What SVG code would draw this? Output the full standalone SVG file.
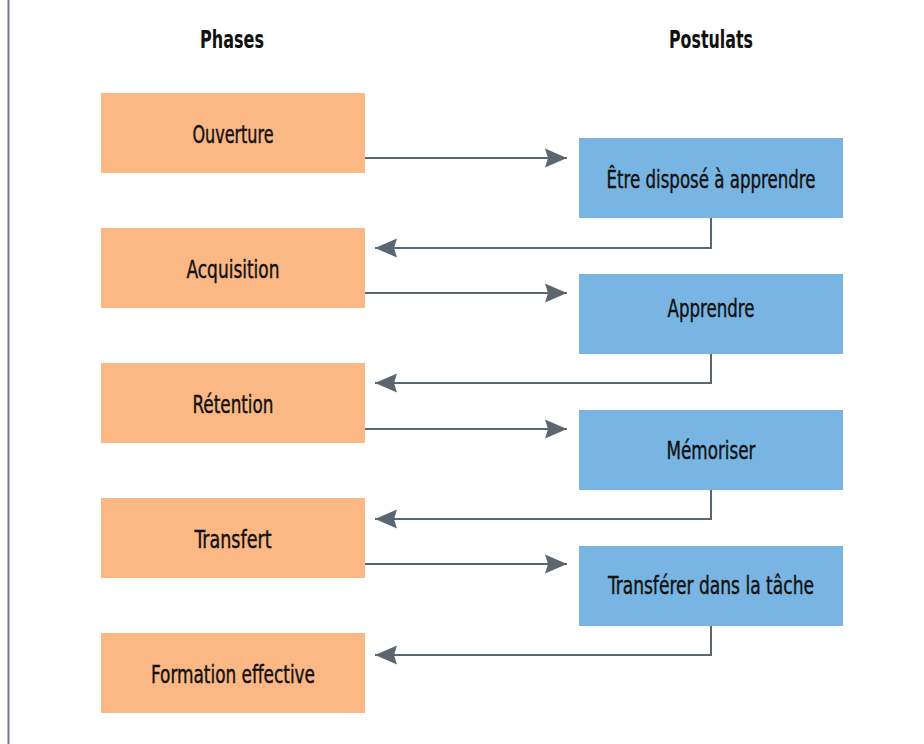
<svg xmlns="http://www.w3.org/2000/svg" width="924" height="744" viewBox="0 0 924 744">
<defs>
<style>
.ph{fill:#fbb784}
.po{fill:#79b5e2}
.t{font-family:"DejaVu Sans","Liberation Sans",sans-serif;font-stretch:condensed;font-size:24px;fill:#111;stroke:#111;stroke-width:0.4;text-anchor:middle}
.h{font-weight:bold;font-size:25px;stroke-width:0}
.c{fill:none;stroke:#5b6770;stroke-width:2}
</style>
<marker id="ah" markerUnits="userSpaceOnUse" markerWidth="24" markerHeight="20" viewBox="0 0 24 20" refX="22" refY="10" orient="auto">
<path d="M0,0.5 L22,10 L0,19.5 L3,10 Z" fill="#5b6770"/>
</marker>
</defs>
<rect width="924" height="744" fill="#fff"/>
<line x1="8.5" y1="0" x2="8.5" y2="744" stroke="#6f7a85" stroke-width="2"/>
<text class="t h" x="232" y="48" textLength="64" lengthAdjust="spacingAndGlyphs">Phases</text>
<text class="t h" x="711" y="48" textLength="84" lengthAdjust="spacingAndGlyphs">Postulats</text>
<g id="connectors">
<path class="c" d="M365,158 H567" marker-end="url(#ah)"/>
<path class="c" d="M711,218 V248 H375" marker-end="url(#ah)"/>
<path class="c" d="M365,293 H567" marker-end="url(#ah)"/>
<path class="c" d="M711,354 V383 H375" marker-end="url(#ah)"/>
<path class="c" d="M365,429 H567" marker-end="url(#ah)"/>
<path class="c" d="M711,490 V519 H375" marker-end="url(#ah)"/>
<path class="c" d="M365,564 H567" marker-end="url(#ah)"/>
<path class="c" d="M711,626 V655 H375" marker-end="url(#ah)"/>
</g>
<g id="ouverture"><rect class="ph" x="101" y="93" width="264" height="80"/><text class="t" x="233" y="143" textLength="81" lengthAdjust="spacingAndGlyphs">Ouverture</text></g>
<g id="acquisition"><rect class="ph" x="101" y="228" width="264" height="80"/><text class="t" x="233" y="278" textLength="93" lengthAdjust="spacingAndGlyphs">Acquisition</text></g>
<g id="retention"><rect class="ph" x="101" y="363" width="264" height="80"/><text class="t" x="233" y="413" textLength="81" lengthAdjust="spacingAndGlyphs">Rétention</text></g>
<g id="transfert"><rect class="ph" x="101" y="498" width="264" height="80"/><text class="t" x="233" y="548" textLength="77" lengthAdjust="spacingAndGlyphs">Transfert</text></g>
<g id="formation"><rect class="ph" x="101" y="633" width="264" height="80"/><text class="t" x="233" y="683" textLength="164" lengthAdjust="spacingAndGlyphs">Formation effective</text></g>
<g id="etre-dispose"><rect class="po" x="579" y="138" width="264" height="80"/><text class="t" x="711" y="188" textLength="209" lengthAdjust="spacingAndGlyphs">Être disposé à apprendre</text></g>
<g id="apprendre"><rect class="po" x="579" y="274" width="264" height="80"/><text class="t" x="711" y="317" textLength="87" lengthAdjust="spacingAndGlyphs">Apprendre</text></g>
<g id="memoriser"><rect class="po" x="579" y="410" width="264" height="80"/><text class="t" x="711" y="459" textLength="89" lengthAdjust="spacingAndGlyphs">Mémoriser</text></g>
<g id="transferer"><rect class="po" x="579" y="546" width="264" height="80"/><text class="t" x="711" y="594" textLength="206" lengthAdjust="spacingAndGlyphs">Transférer dans la tâche</text></g>
</svg>
